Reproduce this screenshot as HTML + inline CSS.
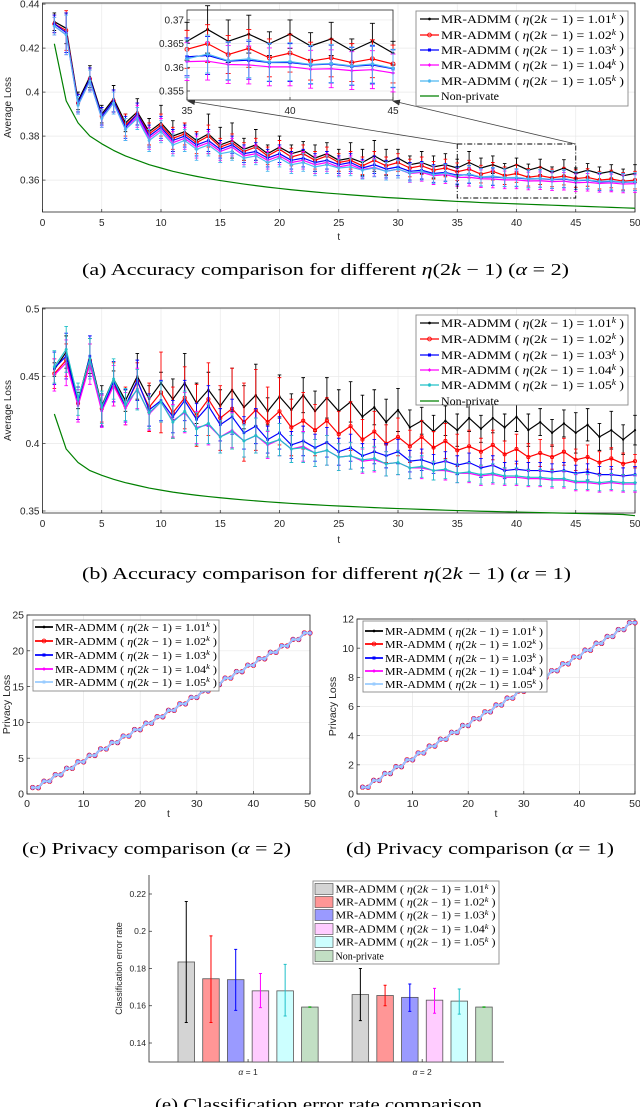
<!DOCTYPE html>
<html><head><meta charset="utf-8"><style>
html,body{margin:0;padding:0;background:#fff;}
svg{display:block;}
</style></head><body>
<svg id="fig" xmlns="http://www.w3.org/2000/svg" width="640" height="1107" viewBox="0 0 640 1107">
<rect x="0" y="0" width="640" height="1107" fill="#fff"/>
</svg>
<script>
// ---------- data ----------
const tVals = [1,2,3,4,5,6,7,8,9,10,11,12,13,14,15,16,17,18,19,20,21,22,23,24,25,26,27,28,29,30,31,32,33,34,35,36,37,38,39,40,41,42,43,44,45,46,47,48,49,50];
const seriesValues = ['1.01','1.02','1.03','1.04','1.05'];
// (a) alpha = 2
const aBlack = [.432,.429,.396,.407,.390,.397,.386,.391,.382,.386,.380,.382,.378,.381,.376,.378,.374,.376,.372,.375,.372,.3735,.370,.372,.369,.370,.368,.371,.368,.370,.367,.368,.366,.367,.3655,.368,.3655,.367,.365,.367,.3645,.366,.3635,.3655,.363,.3645,.363,.364,.362,.363];
const aRed = [.431,.428,.395,.406,.389,.396,.385,.390,.381,.385,.379,.381,.377,.380,.375,.377,.373,.375,.371,.374,.3705,.372,.369,.371,.368,.369,.3665,.369,.3665,.368,.3655,.3665,.3645,.3655,.3638,.365,.3627,.364,.362,.363,.3613,.362,.361,.3618,.3607,.3612,.360,.3605,.3595,.360];
const aBlue = [.431,.427,.395,.406,.389,.396,.384,.390,.380,.384,.378,.380,.376,.378,.374,.376,.372,.373,.370,.372,.369,.370,.368,.369,.367,.368,.3655,.367,.365,.366,.364,.3645,.363,.3635,.3622,.3625,.3613,.3615,.361,.361,.3605,.3607,.3602,.3605,.3597,.360,.3592,.3594,.359,.3592];
const aMag = [.430,.426,.394,.405,.388,.395,.383,.389,.379,.383,.377,.379,.375,.377,.373,.375,.371,.372,.369,.371,.368,.369,.367,.368,.366,.367,.3648,.3658,.364,.365,.363,.3635,.362,.3625,.3612,.3613,.3606,.3605,.3601,.3601,.3596,.3597,.3593,.3595,.3588,.359,.3585,.3587,.3582,.3584];
const aCyan = [.430,.426,.394,.405,.388,.395,.383,.388,.378,.382,.376,.378,.374,.376,.372,.373,.370,.371,.368,.370,.367,.368,.366,.367,.3655,.366,.3645,.3655,.364,.365,.3632,.364,.3625,.3632,.3618,.3628,.3614,.3618,.3611,.3612,.3606,.3608,.3603,.3607,.3598,.3601,.3594,.3596,.3591,.3593];
const nonPrivate = [.422,.396,.386,.380,.3765,.3735,.371,.369,.367,.3655,.364,.3628,.3617,.3607,.3598,.359,.3582,.3575,.3568,.3562,.3556,.3551,.3546,.3541,.3537,.3533,.3529,.3525,.3521,.3518,.3515,.3512,.3509,.3506,.3503,.3501,.3498,.3496,.3494,.3492,.349,.3488,.3486,.3484,.3482,.348,.3478,.3476,.3474,.3472];
const aErrBlack = [.004,.007,.004,.005,.004,.006,.004,.006,.006,.008,.007,.004,.004,.009,.008,.008,.005,.007,.004,.005,.004,.004,.006,.005,.005,.007,.006,.007,.006,.004,.004,.005,.005,.005,.004,.005,.0045,.004,.0025,.003,.0028,.0035,.0025,.0038,.0025,.003,.003,.003,.003,.004];
const aErr = [.004,.009,.004,.005,.004,.005,.005,.005,.005,.005,.005,.005,.005,.005,.004,.004,.004,.004,.004,.004,.004,.004,.004,.004,.004,.004,.004,.004,.004,.004,.004,.004,.004,.004,.004,.004,.004,.004,.004,.004,.004,.004,.004,.004,.004,.004,.004,.004,.004,.004];
// (b) alpha = 1
const bBlack = [.455,.468,.432,.465,.428,.448,.432,.450,.433,.445,.433,.445,.430,.440,.428,.440,.427,.436,.424,.435,.425,.436,.424,.434,.424,.431,.420,.427,.416,.425,.412,.417,.409,.417,.410,.419,.411,.419,.412,.420,.410,.416,.408,.415,.408,.414,.405,.410,.403,.410];
const bRed = [.452,.462,.430,.462,.426,.444,.428,.446,.427,.438,.423,.434,.421,.433,.419,.426,.416,.425,.416,.424,.412,.417,.410,.417,.407,.413,.403,.409,.400,.405,.398,.405,.397,.402,.395,.398,.394,.399,.392,.396,.390,.393,.390,.394,.388,.390,.386,.389,.385,.387];
const bBlue = [.456,.465,.430,.465,.425,.446,.428,.447,.425,.432,.420,.432,.418,.428,.414,.420,.408,.413,.403,.408,.399,.402,.397,.401,.394,.397,.391,.394,.391,.394,.387,.388,.385,.387,.384,.386,.382,.384,.380,.381,.380,.380,.379,.380,.378,.379,.377,.377,.376,.377];
const bMag = [.451,.460,.428,.459,.424,.443,.426,.441,.422,.431,.417,.423,.412,.414,.405,.410,.402,.406,.399,.403,.396,.398,.393,.395,.390,.391,.387,.388,.385,.386,.382,.382,.380,.380,.378,.378,.376,.377,.375,.375,.374,.374,.373,.373,.371,.371,.370,.371,.370,.370];
const bCyan = [.457,.470,.433,.463,.427,.448,.429,.440,.423,.431,.416,.424,.411,.415,.405,.409,.402,.406,.400,.403,.396,.397,.393,.395,.390,.391,.388,.389,.385,.386,.382,.383,.380,.381,.378,.379,.377,.378,.376,.376,.375,.375,.374,.374,.372,.372,.371,.372,.371,.371];
const bNonPrivate = [.422,.396,.386,.380,.3765,.3735,.371,.369,.367,.3655,.364,.3628,.3617,.3607,.3598,.359,.3582,.3575,.3568,.3562,.3556,.3551,.3546,.3541,.3537,.3533,.3529,.3525,.3521,.3518,.3515,.3512,.3509,.3506,.3503,.3501,.3498,.3496,.3494,.3492,.349,.3488,.3486,.3484,.3482,.348,.3478,.3476,.3474,.3465];
const bErrBlack = [.005,.012,.006,.013,.015,.006,.008,.017,.010,.008,.015,.022,.015,.013,.012,.016,.016,.023,.010,.016,.012,.013,.015,.015,.016,.015,.016,.013,.017,.016,.013,.010,.012,.011,.012,.010,.010,.011,.010,.011,.012,.010,.010,.010,.015,.012,.010,.014,.011,.011];
const bErrRed = [.011,.012,.012,.012,.010,.016,.014,.014,.018,.030,.019,.023,.023,.027,.024,.030,.029,.030,.026,.025,.021,.021,.019,.017,.017,.018,.015,.015,.014,.014,.012,.012,.012,.013,.012,.012,.010,.011,.010,.011,.010,.010,.009,.010,.008,.009,.008,.008,.008,.005];
const bErr = [.012,.017,.012,.015,.012,.015,.012,.015,.012,.015,.012,.015,.012,.015,.012,.013,.012,.013,.010,.012,.010,.011,.010,.011,.010,.010,.009,.009,.009,.009,.008,.008,.007,.007,.007,.007,.007,.007,.006,.006,.006,.006,.006,.006,.006,.006,.006,.006,.006,.006];
// (c),(d) privacy loss
const privC = [0.9,0.88,1.8,1.78,2.7,2.68,3.6,3.58,4.5,4.48,5.4,5.38,6.3,6.28,7.2,7.18,8.1,8.08,9.0,8.98,9.9,9.88,10.8,10.78,11.7,11.68,12.6,12.58,13.5,13.48,14.4,14.38,15.3,15.28,16.2,16.18,17.1,17.08,18.0,17.98,18.9,18.88,19.8,19.78,20.7,20.68,21.6,21.58,22.5,22.48];
const privD = [0.47,0.46,0.94,0.93,1.41,1.40,1.88,1.87,2.35,2.34,2.82,2.81,3.29,3.28,3.76,3.75,4.23,4.22,4.70,4.69,5.17,5.16,5.64,5.63,6.11,6.10,6.58,6.57,7.05,7.04,7.52,7.51,7.99,7.98,8.46,8.45,8.93,8.92,9.40,9.39,9.87,9.86,10.34,10.33,10.81,10.80,11.28,11.27,11.75,11.74];
// (e) bars
const barGroups = ['α = 1','α = 2'];
const barMeans1 = [0.1835,0.1745,0.174,0.168,0.168,0.1593];
const barLo1 = [0.151,0.151,0.1575,0.159,0.1545,0.1592];
const barHi1 = [0.216,0.1975,0.1903,0.1773,0.1822,0.1594];
const barMeans2 = [0.166,0.1655,0.1645,0.163,0.1625,0.1593];
const barLo2 = [0.152,0.160,0.157,0.156,0.1555,0.1592];
const barHi2 = [0.180,0.171,0.1717,0.1693,0.1690,0.1594];
const tickA = [0.36,0.38,0.4,0.42,0.44];
const tickB = [0.35,0.4,0.45,0.5];
const tickInset = [0.355,0.36,0.365,0.37];
const tickC = [0,5,10,15,20,25];
const tickD = [0,2,4,6,8,10,12];
const tickE = [0.14,0.16,0.18,0.2,0.22];

// ---------- helpers ----------
const NS='http://www.w3.org/2000/svg';
const svg=document.getElementById('fig');
const SANS='"Liberation Sans", "DejaVu Sans", sans-serif';
const SERIF='"Liberation Serif", "DejaVu Serif", serif';
function mk(tag, attrs, parent){
  const e=document.createElementNS(NS,tag);
  for(const k in attrs) e.setAttribute(k,attrs[k]);
  (parent||svg).appendChild(e);
  return e;
}
function axes(o){
  const sx=v=>o.L+(v-o.xmin)/(o.xmax-o.xmin)*(o.R-o.L);
  const sy=v=>o.B-(v-o.ymin)/(o.ymax-o.ymin)*(o.B-o.T);
  const g=mk('g',{});
  
  
  if(o.bg){ const r=mk('rect',{x:o.L,y:o.T,width:o.R-o.L,height:o.B-o.T,fill:'#fff'},g);
    
     }
  const fs=o.fs||10;
  if(o.grid){
    o.xticks.forEach(v=>{ const l=mk('line',{x1:sx(v),x2:sx(v),y1:o.T,y2:o.B,stroke:'#e8e8e8','stroke-width':0.7},g);
      
       });
    o.yticks.forEach(v=>{ const l=mk('line',{x1:o.L,x2:o.R,y1:sy(v),y2:sy(v),stroke:'#e8e8e8','stroke-width':0.7},g);
      
       });
  }
  const box=mk('rect',{x:o.L,y:o.T,width:o.R-o.L,height:o.B-o.T,fill:'none',stroke:'#262626','stroke-width':0.8},g);
  
  
  if(o.noBox){ box.setAttribute('stroke','none');
    const la=mk('path',{d:`M${o.L},${o.T}V${o.B}H${o.R}`,fill:'none',stroke:'#262626','stroke-width':0.8},g);
    
     }
  (o.xticks||[]).forEach(v=>{
    const l=mk('line',{x1:sx(v),x2:sx(v),y1:o.B,y2:o.B-3,stroke:'#262626','stroke-width':0.7},g);
    
    
    if(!o.noXLabels){ const t=mk('text',{x:sx(v),y:o.B+(o.xlabDy||12),'text-anchor':'middle','font-family':SANS,'font-size':fs,fill:'#262626'},g);
      t.textContent=String(v);
      
       }
  });
  o.yticks.forEach(v=>{
    const l=mk('line',{x1:o.L,x2:o.L+3,y1:sy(v),y2:sy(v),stroke:'#262626','stroke-width':0.7},g);
    
    
    const t=mk('text',{x:o.L-3,y:sy(v)+fs*0.35,'text-anchor':'end','font-family':SANS,'font-size':fs,fill:'#262626'},g);
    t.textContent=String(v);
    
    
  });
  if(o.xlabel){ const t=mk('text',{x:(o.L+o.R)/2,y:o.xlabY,'text-anchor':'middle','font-family':SANS,'font-size':fs,fill:'#262626'},g);
    t.textContent=o.xlabel;
    
     }
  if(o.ylabel){ const cy=(o.T+o.B)/2; const t=mk('text',{x:o.ylabX,y:cy,'text-anchor':'middle','font-family':SANS,'font-size':o.ylfs||fs,fill:'#262626',transform:`rotate(-90 ${o.ylabX} ${cy})`},g);
    t.textContent=o.ylabel;
    
     }
  return {sx,sy,g};
}
function marker(g,type,x,y,c,r){
  let m;
  if(type==='.') m=mk('circle',{cx:x,cy:y,r:r*0.7,fill:c},g);
  else if(type==='o') m=mk('circle',{cx:x,cy:y,r:r,fill:'none',stroke:c,'stroke-width':0.9},g);
  else if(type==='s') m=mk('rect',{x:x-r*0.8,y:y-r*0.8,width:r*1.6,height:r*1.6,fill:c},g);
  else if(type==='d') m=mk('path',{d:`M${x},${y-r}L${x+r},${y}L${x},${y+r}L${x-r},${y}Z`,fill:c},g);
  else m=mk('path',{d:`M${x-r},${y}H${x+r}M${x},${y-r}V${y+r}M${x-r*0.7},${y-r*0.7}L${x+r*0.7},${y+r*0.7}M${x-r*0.7},${y+r*0.7}L${x+r*0.7},${y-r*0.7}`,stroke:c,'stroke-width':0.8,fill:'none'},g);
  
  
}
function series(ax,xs,ys,err,c,mtype,opt){
  opt=opt||{};
  const g=mk('g',{},ax.g);
  
  
  const idx=[]; xs.forEach((x,i)=>{ if(opt.from===undefined || (x>=opt.from && x<=opt.to)) idx.push(i); });
  if(err){ idx.forEach(i=>{ const x=ax.sx(xs[i]), y1=ax.sy(ys[i]-err[i]), y2=ax.sy(ys[i]+err[i]); const w=opt.cap||1.8;
    const e=mk('path',{d:`M${x},${y1}V${y2}M${x-w},${y1}H${x+w}M${x-w},${y2}H${x+w}`,stroke:c,'stroke-width':opt.ew||0.9,fill:'none'},g);
    
     }); }
  const pts=idx.map(i=>ax.sx(xs[i]).toFixed(2)+','+ax.sy(ys[i]).toFixed(2)).join(' ');
  const l=mk('polyline',{points:pts,fill:'none',stroke:c,'stroke-width':opt.lw||1.2,'stroke-linejoin':'round'},g);
  
  
  if(mtype) idx.forEach(i=>marker(g,mtype,ax.sx(xs[i]),ax.sy(ys[i]),c,opt.mr||1.8));
}
function legendLabel(parent,x,y,val,fs,len){
  const t=mk('text',{x:x,y:y+fs*0.35,'font-family':SERIF,'font-size':fs,fill:'#000',textLength:len,lengthAdjust:'spacingAndGlyphs'},parent);
  t.innerHTML=`MR-ADMM ( <tspan font-style="italic">η</tspan>(2<tspan font-style="italic">k</tspan> − 1) = ${val}<tspan dy="-${fs*0.35}" font-size="${fs*0.7}" font-style="italic">k</tspan><tspan dy="${fs*0.35}"> )</tspan>`;
  
  
  return t;
}
function legend(box,entries,o){
  const g=mk('g',{});
  
  
  const r=mk('rect',{x:box[0],y:box[1],width:box[2]-box[0],height:box[3]-box[1],fill:'#fff',stroke:'#8a8a8a','stroke-width':0.9},g);
  
  
  entries.forEach((en,i)=>{
    const y=o.ys[i];
    if(o.swatch){ const s=mk('rect',{x:o.lx0,y:y-5.5,width:o.lx1-o.lx0,height:11,fill:en.fill,stroke:'#444','stroke-width':0.6},g);
      
       }
    else { const l=mk('line',{x1:o.lx0,x2:o.lx1,y1:y,y2:y,stroke:en.c,'stroke-width':o.llw||1.2},g);
      
      
      if(en.m) marker(g,en.m,(o.lx0+o.lx1)/2,y,en.c,1.9); }
    if(en.val) legendLabel(g,o.tx,y,en.val,o.fs,o.tlen);
    else { const t=mk('text',{x:o.tx,y:y+o.fs*0.35,'font-family':SERIF,'font-size':o.fs,fill:'#000'},g);
      t.textContent='Non-private';
      
       }
  });
}
function caption(text,x1,x2,y,name){
  const t=mk('text',{x:x1,y:y,'font-family':SERIF,'font-size':17,fill:'#000',textLength:x2-x1,lengthAdjust:'spacingAndGlyphs'});
  t.innerHTML=text;
  
  
}
const IT=s=>`<tspan font-style="italic">${s}</tspan>`;

// ---------- (a) ----------
const axA=axes({name:'plot-a',L:42.5,R:635,T:3,B:212,xmin:0,xmax:50,ymin:0.3455,ymax:0.4405,xticks:[0,5,10,15,20,25,30,35,40,45,50],yticks:tickA,grid:true,xlabel:'t',xlabY:240,ylabel:'Average Loss',ylabX:11,xlabDy:14});
const cA=['#000','#ff0000','#0000ff','#ff00ff','#4db8f0'];
const mA=['.','o','s','d','*'];
series(axA,tVals,nonPrivate,null,'#008000',null,{name:'non-private-line',lw:1.2});
[[aBlack,aErrBlack],[aRed,aErr],[aBlue,aErr],[aMag,aErr],[aCyan,aErr]].forEach((s,i)=>series(axA,tVals,s[0],s[1],cA[i],mA[i],{name:'series-'+seriesValues[i],mr:1.6}));
const zr=mk('rect',{x:axA.sx(35),y:144,width:axA.sx(45)-axA.sx(35),height:54,fill:'none',stroke:'#000','stroke-width':0.9,'stroke-dasharray':'5,2,1,2'});


const defs=mk('defs',{});
const mkA=mk('marker',{id:'ah',markerWidth:8,markerHeight:6,refX:7,refY:3,orient:'auto',markerUnits:'userSpaceOnUse'},defs);
mk('path',{d:'M0,0L8,3L0,6Z',fill:'#333'},mkA);
const ar1=mk('line',{x1:axA.sx(35),y1:144,x2:188,y2:101,stroke:'#444','stroke-width':0.8,'marker-end':'url(#ah)'});


const ar2=mk('line',{x1:axA.sx(45),y1:144,x2:393,y2:101,stroke:'#444','stroke-width':0.8,'marker-end':'url(#ah)'});


const axI=axes({name:'inset-a',L:187,R:393,T:10,B:100,xmin:35,xmax:45,ymin:0.3531,ymax:0.3721,xticks:[35,40,45],yticks:tickInset,grid:true,bg:true,xlabDy:14});
[[aBlack,aErrBlack],[aRed,aErr],[aBlue,aErr],[aMag,aErr],[aCyan,aErr]].forEach((s,i)=>series(axI,tVals,s[0],s[1],cA[i],mA[i],{name:'inset-series-'+seriesValues[i],from:35,to:45,mr:2,cap:2.5}));
legend([416,11,628,106],[{val:'1.01',c:cA[0],m:'.'},{val:'1.02',c:cA[1],m:'o'},{val:'1.03',c:cA[2],m:'s'},{val:'1.04',c:cA[3],m:'d'},{val:'1.05',c:cA[4],m:'*'},{c:'#008000'}],
 {name:'legend-a',ys:[19,35,50,65,81,96],lx0:420,lx1:439,tx:441,fs:12,tlen:183});
caption(`(a) Accuracy comparison for different ${IT('η')}(2${IT('k')} − 1) (${IT('α')} = 2)`,82,569,275,'caption-a');

// ---------- (b) ----------
const axB=axes({name:'plot-b',L:42.5,R:635,T:308,B:513,xmin:0,xmax:50,ymin:0.3485,ymax:0.5007,xticks:[0,5,10,15,20,25,30,35,40,45,50],yticks:tickB,grid:true,xlabel:'t',xlabY:543,ylabel:'Average Loss',ylabX:11,xlabDy:14});
const cB=['#000','#ff0000','#0000ff','#ff00ff','#20c0c8'];
series(axB,tVals,bNonPrivate,null,'#008000',null,{name:'non-private-line-b',lw:1.2});
[[bBlack,bErrBlack],[bRed,bErrRed],[bBlue,bErr],[bMag,bErr],[bCyan,bErr]].forEach((s,i)=>series(axB,tVals,s[0],s[1],cB[i],mA[i],{name:'series-b-'+seriesValues[i],mr:1.6}));
legend([416,315,628,405],[{val:'1.01',c:cB[0],m:'.'},{val:'1.02',c:cB[1],m:'o'},{val:'1.03',c:cB[2],m:'s'},{val:'1.04',c:cB[3],m:'d'},{val:'1.05',c:cB[4],m:'*'},{c:'#008000'}],
 {name:'legend-b',ys:[323,339,355,370,385,401],lx0:420,lx1:439,tx:441,fs:12,tlen:183});
caption(`(b) Accuracy comparison for different ${IT('η')}(2${IT('k')} − 1) (${IT('α')} = 1)`,82,571,579,'caption-b');

// ---------- (c) ----------
const cP=['#000','#ff0000','#0000ff','#ff00ff','#99ccff'];
const axC=axes({name:'plot-c',L:27,R:310,T:615,B:794,xmin:0,xmax:50,ymin:0,ymax:25,xticks:[0,10,20,30,40,50],yticks:tickC,grid:true,xlabel:'t',xlabY:817,ylabel:'Privacy Loss',ylabX:10,xlabDy:13,fs:10.5});
[privC,privC,privC,privC,privC].forEach((s,i)=>series(axC,tVals,s,null,cP[i],mA[i],{name:'privacy-c-'+seriesValues[i],mr:2.2,lw:1.8}));
legend([33,620,219,691],seriesValues.map((v,i)=>({val:v,c:cP[i],m:mA[i]})),{name:'legend-c',ys:[627,641,655,669,682],lx0:35,lx1:53,tx:55,fs:11,tlen:162,llw:1.8});
caption(`(c) Privacy comparison (${IT('α')} = 2)`,22,291,854,'caption-c');

// ---------- (d) ----------
const axD=axes({name:'plot-d',L:357,R:635,T:619,B:794,xmin:0,xmax:50,ymin:0,ymax:12,xticks:[0,10,20,30,40,50],yticks:tickD,grid:true,xlabel:'t',xlabY:817,ylabel:'Privacy Loss',ylabX:336,xlabDy:13,fs:10.5});
[privD,privD,privD,privD,privD].forEach((s,i)=>series(axD,tVals,s,null,cP[i],mA[i],{name:'privacy-d-'+seriesValues[i],mr:2.2,lw:1.8}));
legend([363,621,547,692],seriesValues.map((v,i)=>({val:v,c:cP[i],m:mA[i]})),{name:'legend-d',ys:[631,644,658,671,684],lx0:365,lx1:383,tx:385,fs:11,tlen:158,llw:1.8});
caption(`(d) Privacy comparison (${IT('α')} = 1)`,346,614,854,'caption-d');

// ---------- (e) ----------
const axE=axes({name:'plot-e',L:149,R:504,T:875,B:1062,xmin:0.431,xmax:2.47,ymin:0.1298,ymax:0.2302,xticks:[],yticks:tickE,grid:false,noBox:true,ylabel:'Classification error rate',ylabX:122,fs:8.5,ylfs:9});
const barFill=['#d4d4d4','#ff9696','#9a9aff','#ffccff','#ccffff','#c2dfc4'];
const barErrC=['#000','#ff0000','#0000ff','#ff00ff','#20c0c8','#00a000'];
const groups=[[barMeans1,barLo1,barHi1],[barMeans2,barLo2,barHi2]];
groups.forEach((gr,gi)=>{
  const cx=gi+1;
  const lab=mk('text',{x:axE.sx(cx),y:1075,'text-anchor':'middle','font-family':SANS,'font-size':8.5,fill:'#262626'});
  lab.innerHTML=`${IT('α')} = ${gi+1}`;
  
  
  const tk=mk('line',{x1:axE.sx(cx),x2:axE.sx(cx),y1:1062,y2:1059,stroke:'#262626','stroke-width':0.7});
  
  
  gr[0].forEach((v,i)=>{
    const xc=axE.sx(cx+(i-2.5)*0.142), w=axE.sx(0.431+0.095)-axE.sx(0.431);
    const b=mk('rect',{x:xc-w/2,y:axE.sy(v),width:w,height:axE.sy(0.1298)-axE.sy(v),fill:barFill[i],stroke:'#555','stroke-width':0.8});
    
    
    const e=mk('path',{d:`M${xc},${axE.sy(gr[1][i])}V${axE.sy(gr[2][i])}M${xc-1.5},${axE.sy(gr[1][i])}H${xc+1.5}M${xc-1.5},${axE.sy(gr[2][i])}H${xc+1.5}`,stroke:barErrC[i],'stroke-width':1,fill:'none'});
    
    
  });
});
legend([313,881,499,964],[...seriesValues.map((v,i)=>({val:v,fill:barFill[i]})),{fill:barFill[5]}],{name:'legend-e',swatch:true,ys:[889,902,915,929,942,956],lx0:315,lx1:333,tx:335.5,fs:10,tlen:160});
caption(`(e) Classification error rate comparison`,155,482,1110,'caption-e');
</script>
</body></html>
